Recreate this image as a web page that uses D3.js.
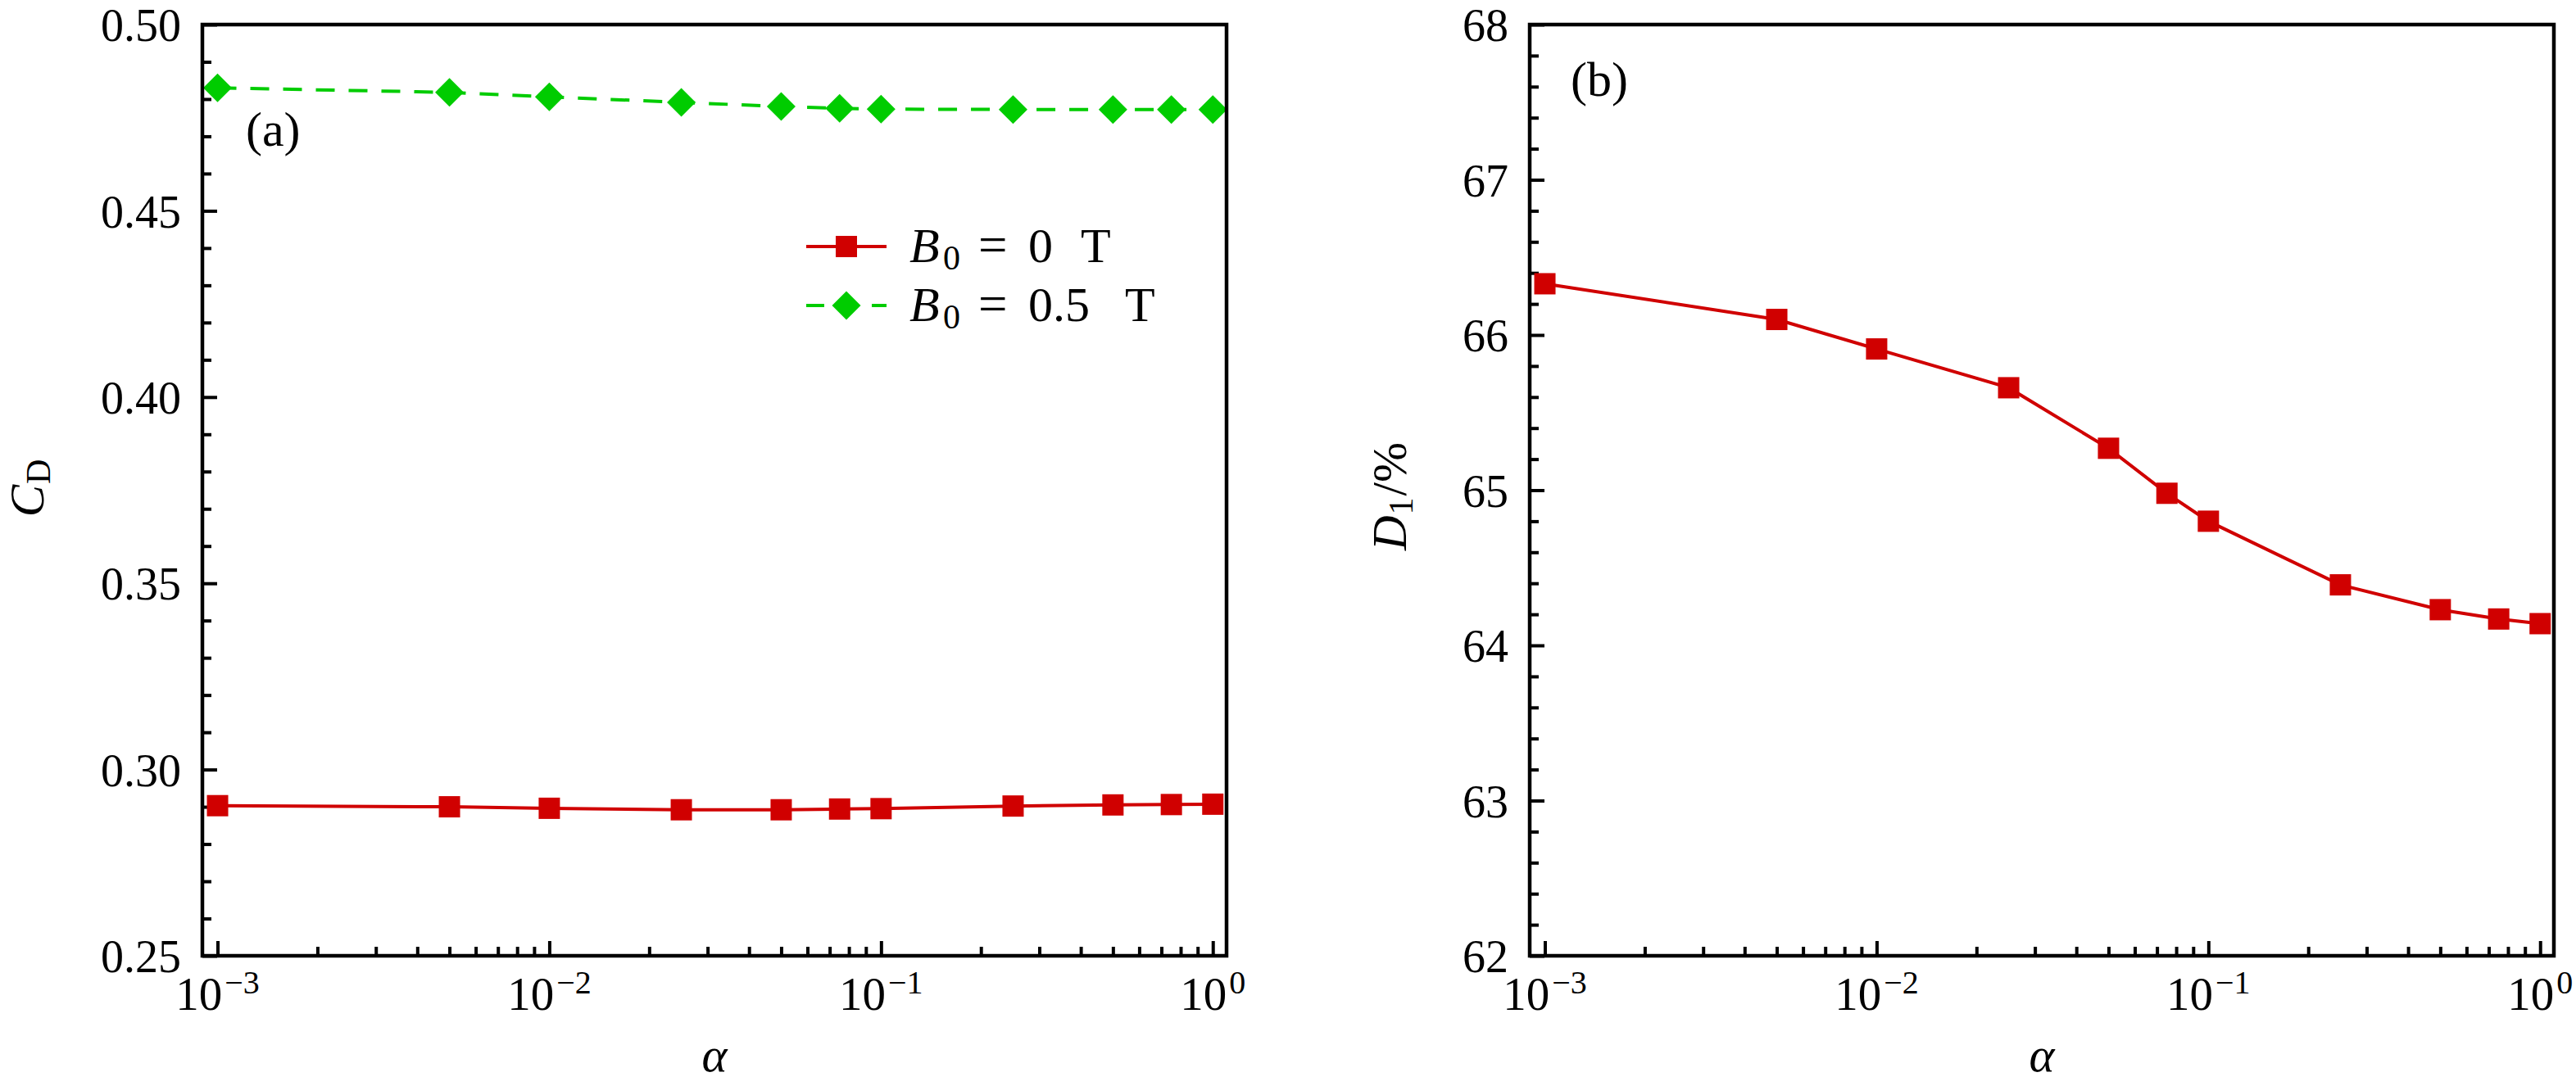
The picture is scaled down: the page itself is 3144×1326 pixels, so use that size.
<!DOCTYPE html>
<html>
<head>
<meta charset="utf-8">
<script src="https://cdn.jsdelivr.net/npm/d3@7/dist/d3.min.js"></script>
<style>
  html, body { margin: 0; padding: 0; background: #fff; }
  svg { display: block; }
  text { font-family: "Liberation Serif", "DejaVu Serif", serif; fill: #000; }
</style>
</head>
<body>
<script>
// ---------------- data ----------------
const alpha = [0.001, 0.005, 0.01, 0.025, 0.05, 0.075, 0.1, 0.25, 0.5, 0.75, 1.0];
const cdB0 = [0.2903, 0.2900, 0.2896, 0.2892, 0.2892, 0.2894, 0.2895, 0.2902, 0.2905, 0.2906, 0.2907];
const cdB05 = [0.4830, 0.4818, 0.4806, 0.4791, 0.4780, 0.4775, 0.4773, 0.4772, 0.4772, 0.4772, 0.4772];
const d1 = [66.33, 66.10, 65.91, 65.66, 65.27, 64.98, 64.80, 64.39, 64.23, 64.17, 64.14];

const xMajor = [0.001, 0.01, 0.1, 1];
const xMajorExp = ["−3", "−2", "−1", "0"];
const yTicksA = [0.25, 0.30, 0.35, 0.40, 0.45, 0.50];
const yTicksB = [62, 63, 64, 65, 66, 67, 68];
const legendLabels = ["0", "0.5"];

// ---------------- layout ----------------
const W = 3144, H = 1326;
const plotTop = 30, plotBottom = 1167;
const RED = "#d00000", GREEN = "#00cc00";
const FS = 57, FSsub = 40;

const svg = d3.select("body").append("svg").attr("width", W).attr("height", H);

function xMinorTicks() {
  const out = [];
  [0.001, 0.01, 0.1].forEach(d => { for (let k = 2; k <= 9; k++) out.push(d * k); });
  return out;
}
function stepRange(a, b, step) {
  const out = []; const n = Math.round((b - a) / step);
  for (let i = 0; i <= n; i++) out.push(+(a + i * step).toFixed(6));
  return out;
}

function panel(left, right, yDomain, yMajor, yMinorStep, yFmt) {
  const g = svg.append("g");
  const x = d3.scaleLog().domain([0.0009, 1.1]).range([left, right]);
  const y = d3.scaleLinear().domain(yDomain).range([plotBottom, plotTop]);

  const styleAxis = sel => {
    sel.select(".domain").remove();
    sel.selectAll(".tick line").attr("stroke", "#000").attr("stroke-width", 4);
    sel.selectAll(".tick text").remove();
  };
  g.append("g").attr("transform", `translate(0,${plotBottom})`)
    .call(d3.axisBottom(x).tickValues(xMajor).tickSize(-18).tickFormat(() => ""))
    .call(styleAxis);
  g.append("g").attr("transform", `translate(0,${plotBottom})`)
    .call(d3.axisBottom(x).tickValues(xMinorTicks()).tickSize(-11).tickFormat(() => ""))
    .call(styleAxis);
  const yMinor = stepRange(yDomain[0], yDomain[1], yMinorStep).filter(v => !yMajor.some(m => Math.abs(m - v) < 1e-6));
  g.append("g").attr("transform", `translate(${left},0)`)
    .call(d3.axisLeft(y).tickValues(yMajor).tickSize(-18).tickFormat(() => ""))
    .call(styleAxis);
  g.append("g").attr("transform", `translate(${left},0)`)
    .call(d3.axisLeft(y).tickValues(yMinor).tickSize(-11).tickFormat(() => ""))
    .call(styleAxis);

  g.selectAll(".ylab").data(yMajor).enter().append("text")
    .attr("x", left - 26).attr("y", d => y(d)).attr("dy", "0.36em")
    .attr("text-anchor", "end").attr("font-size", 56).text(yFmt);

  xMajor.forEach((v, i) => {
    const t = g.append("text").attr("x", x(v)).attr("y", 1233)
      .attr("text-anchor", "middle").attr("font-size", FS);
    t.append("tspan").text("10");
    t.append("tspan").attr("font-size", FSsub).attr("dy", -20).attr("dx", 3).text(xMajorExp[i]);
  });

  g.append("text").attr("x", (left + right) / 2).attr("y", 1308)
    .attr("text-anchor", "middle").attr("font-size", FS + 2).attr("font-style", "italic").text("α");

  return { g, x, y, left, right };
}

function drawSeries(p, vals, color, dashed, marker) {
  const pts = alpha.map((a, i) => ({ a, v: vals[i] }));
  const line = d3.line().x(d => p.x(d.a)).y(d => p.y(d.v));
  p.g.append("path").datum(pts).attr("d", line)
    .attr("fill", "none").attr("stroke", color).attr("stroke-width", 4)
    .attr("stroke-dasharray", dashed ? "23,17" : null);
  const sym = marker === "square" ? d3.symbol(d3.symbolSquare, 676) : d3.symbol(d3.symbolSquare, 612);
  p.g.selectAll(null).data(pts).enter().append("path")
    .attr("d", sym)
    .attr("transform", d => `translate(${p.x(d.a)},${p.y(d.v)})` + (marker === "diamond" ? " rotate(45)" : ""))
    .attr("fill", color);
}

function frame(p) {
  p.g.append("rect").attr("x", p.left).attr("y", plotTop)
    .attr("width", p.right - p.left).attr("height", plotBottom - plotTop)
    .attr("fill", "none").attr("stroke", "#000").attr("stroke-width", 4.5);
}

// ---------------- panel (a) ----------------
const pa = panel(247, 1497, [0.25, 0.50], yTicksA, 0.01, d3.format(".2f"));
drawSeries(pa, cdB0, RED, false, "square");
drawSeries(pa, cdB05, GREEN, true, "diamond");
frame(pa);

{
  const t = pa.g.append("text").attr("transform", "translate(53,596) rotate(-90)")
    .attr("text-anchor", "middle").attr("font-size", 59);
  t.append("tspan").attr("font-style", "italic").text("C");
  t.append("tspan").attr("font-size", FSsub + 2).attr("dy", 8).attr("dx", 1).text("D");
}
pa.g.append("text").attr("x", 300).attr("y", 178).attr("font-size", FS + 3).text("(a)");

{
  const lg = pa.g.append("g");
  const rows = [
    { y: 301, color: RED, dashed: false, marker: "square", val: legendLabels[0], tx: 1321 },
    { y: 373, color: GREEN, dashed: true, marker: "diamond", val: legendLabels[1], tx: 1375 }
  ];
  rows.forEach(r => {
    lg.append("line").attr("x1", 984).attr("x2", 1082).attr("y1", r.y).attr("y2", r.y)
      .attr("stroke", r.color).attr("stroke-width", 4)
      .attr("stroke-dasharray", r.dashed ? "22,18" : null);
    const sym = r.marker === "square" ? d3.symbol(d3.symbolSquare, 676) : d3.symbol(d3.symbolSquare, 612);
    lg.append("path").attr("d", sym)
      .attr("transform", `translate(1033,${r.y})` + (r.marker === "diamond" ? " rotate(45)" : ""))
      .attr("fill", r.color);
    const base = r.y + 19;
    const t = lg.append("text").attr("y", base).attr("font-size", 60);
    t.append("tspan").attr("x", 1110).attr("font-style", "italic").text("B");
    t.append("tspan").attr("x", 1151).attr("y", base + 9).attr("font-size", FSsub + 2).text("0");
    t.append("tspan").attr("x", 1194).attr("y", base).attr("font-size", 63).text("=");
    t.append("tspan").attr("x", 1255).attr("y", base).text(r.val);
    t.append("tspan").attr("x", r.tx - 2).attr("y", base).text("T");
  });
}

// ---------------- panel (b) ----------------
const pb = panel(1867, 3117, [62, 68], yTicksB, 0.2, d3.format("d"));
drawSeries(pb, d1, RED, false, "square");
frame(pb);

{
  const t = pb.g.append("text").attr("transform", "translate(1716,606) rotate(-90)")
    .attr("text-anchor", "middle").attr("font-size", 59);
  t.append("tspan").attr("font-style", "italic").text("D");
  t.append("tspan").attr("font-size", FSsub + 2).attr("dy", 8).attr("dx", 1).text("1");
  t.append("tspan").attr("dy", -8).attr("dx", 2).text("/%");
}
pb.g.append("text").attr("x", 1917).attr("y", 117).attr("font-size", FS + 3).text("(b)");
</script>
</body>
</html>
